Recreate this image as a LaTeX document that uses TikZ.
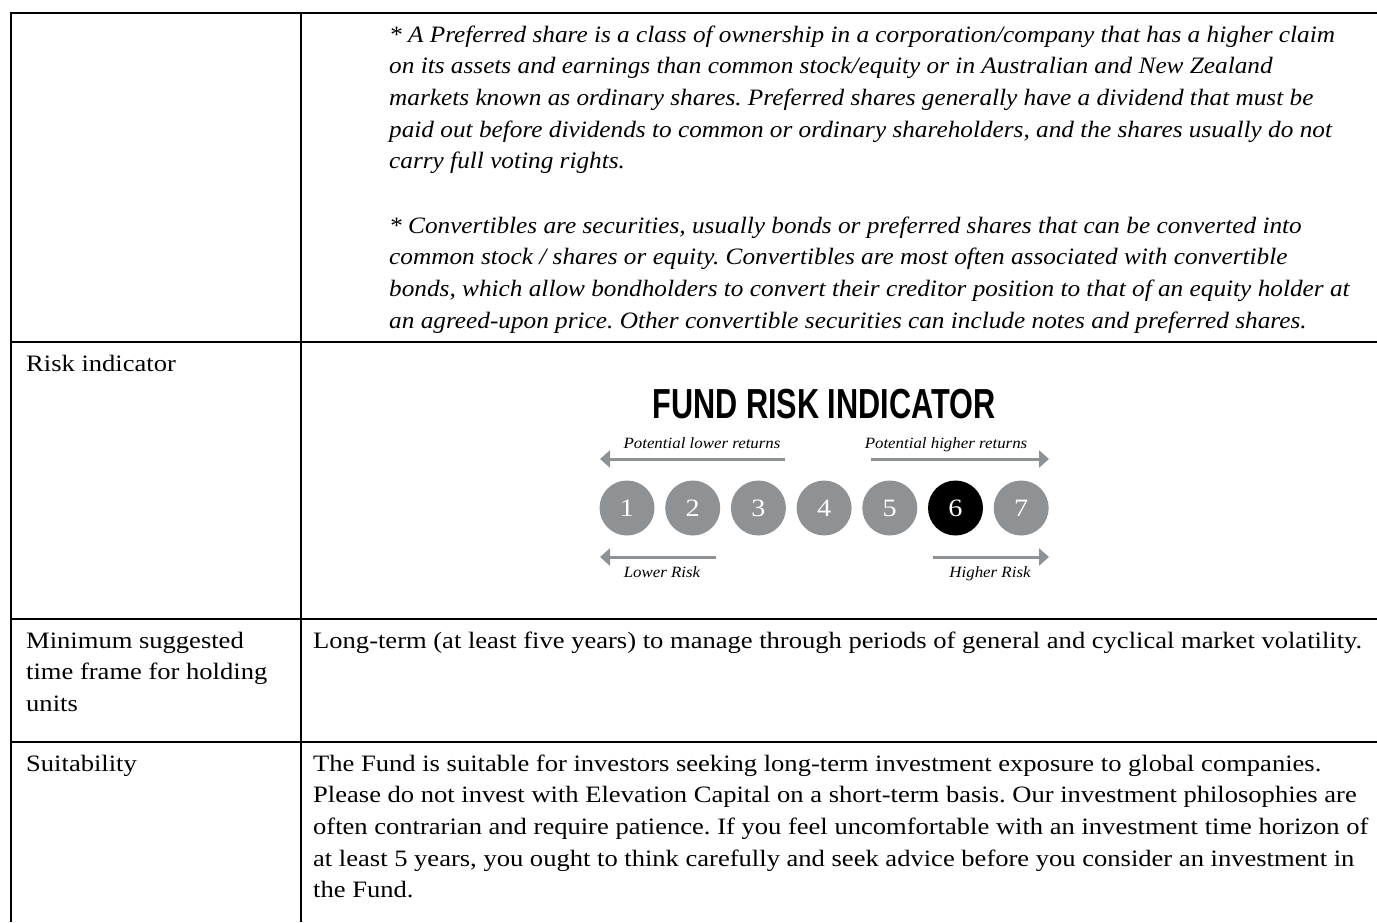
\documentclass[tikz,border=0pt]{standalone}
\usepackage{fontspec}
\setmainfont{Liberation Serif}[FakeStretch=1.13]
\newfontfamily\notefont{Liberation Serif}[FakeStretch=1.075]
\newfontfamily\titlefont{Liberation Sans}
\usepackage{graphicx}
\usetikzlibrary{arrows.meta,positioning}
\frenchspacing
\definecolor{riskgrey}{RGB}{142,146,148}
\newcommand{\circlestep}{65.7pt}
\newcommand{\bodysize}{\fontsize{23.5}{31.7}\selectfont}
\tikzset{
    rule/.style={line width=2.6pt, black},
    cell/.style={anchor=base west, inner sep=0pt, align=left, font=\bodysize},
    note/.style={cell, font=\bodysize\notefont\itshape},
    level/.style={circle, fill=riskgrey, minimum size=55pt, inner sep=0pt, text=white, font=\fontsize{25}{25}\selectfont},
    current/.style={level, fill=black},
    riskarrow/.style={riskgrey, line width=3pt, -{Triangle[length=10pt, width=17pt]}},
    risklabel/.style={inner sep=0pt, anchor=base, font=\fontsize{15.7}{15.7}\selectfont\notefont\itshape}
}

\begin{document}
\begin{tikzpicture}[x=1pt, y=-1pt]
        \useasboundingbox (0,0) rectangle (1377,922);

        % table rules
        \draw[rule] (11,922) -- (11,13) -- (1377,13);
        \draw[rule] (301,13) -- (301,922);
        \draw[rule] (11,342) -- (1377,342);
        \draw[rule] (11,619) -- (1377,619);
        \draw[rule] (11,742) -- (1377,742);

        % left column (multi-line cells sit on their last baseline)
        \node[cell] (risklbl) at (26,371) {Risk indicator};
        \node[cell] (holdlbl) at (26,711.4) {Minimum suggested\\time frame for holding\\units};
        \node[cell] (suitlbl) at (26,771) {Suitability};

        % right column
        \node[note] (preferred) at (389,168.8) {* A Preferred share is a class of ownership in a corporation/company that has a higher claim\\on its assets and earnings than common stock/equity or in Australian and New Zealand\\markets known as ordinary shares. Preferred shares generally have a dividend that must be\\paid out before dividends to common or ordinary shareholders, and the shares usually do not\\carry full voting rights.};
        \node[note] (convertible) at (389,328.1) {* Convertibles are securities, usually bonds or preferred shares that can be converted into\\common stock / shares or equity. Convertibles are most often associated with convertible\\bonds, which allow bondholders to convert their creditor position to that of an equity holder at\\an agreed-upon price. Other convertible securities can include notes and preferred shares.};
        \node[cell] (holdtxt) at (313,648) {Long-term (at least five years) to manage through periods of general and cyclical market volatility.};
        \node[cell] (suittxt) at (313,897.8) {The Fund is suitable for investors seeking long-term investment exposure to global companies.\\Please do not invest with Elevation Capital on a short-term basis. Our investment philosophies are\\often contrarian and require patience. If you feel uncomfortable with an investment time horizon of\\at least 5 years, you ought to think carefully and seek advice before you consider an investment in\\the Fund.};

        % risk scale
        \node[inner sep=0pt, anchor=base, font=\titlefont\bfseries\fontsize{42}{42}\selectfont] (title) at (824,418) {\scalebox{0.73}[1]{FUND RISK INDICATOR}};

        \path (627,508) node[level] (r1) {1}
            to ++(0:\circlestep) node[level] (r2) {2}
            to ++(0:\circlestep) node[level] (r3) {3}
            to ++(0:\circlestep) node[level] (r4) {4}
            to ++(0:\circlestep) node[level] (r5) {5}
            to ++(0:\circlestep) node[current] (r6) {6}
            to ++(0:\circlestep) node[level] (r7) {7};

        \coordinate (lowretstart) at (785,459);
        \coordinate (lowretend) at (600,459);
        \coordinate (highretstart) at (871,459);
        \coordinate (highretend) at (1049,459);
        \coordinate (lowriskstart) at (716,557);
        \coordinate (lowriskend) at (600,557);
        \coordinate (highriskstart) at (933,557);
        \coordinate (highriskend) at (1049,557);

        \draw[riskarrow] (lowretstart) -- (lowretend);
        \draw[riskarrow] (highretstart) -- (highretend);
        \draw[riskarrow] (lowriskstart) -- (lowriskend);
        \draw[riskarrow] (highriskstart) -- (highriskend);

        \node[risklabel] (lowret) at (702,448) {Potential lower returns};
        \node[risklabel] (highret) at (946,448) {Potential higher returns};
        \node[risklabel] (lowrisk) at (662,577) {Lower Risk};
        \node[risklabel] (highrisk) at (990,577) {Higher Risk};
    \end{tikzpicture}
\end{document}
